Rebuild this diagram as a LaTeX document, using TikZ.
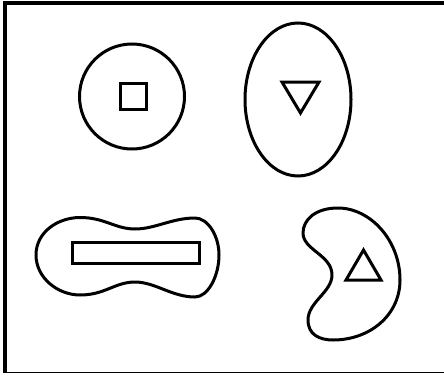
\documentclass[tikz,border=0pt]{standalone}
\usetikzlibrary{shapes.geometric}
\tikzset{
  outline/.style={draw=black,line width=3pt,inner sep=0pt},
  frame/.style={draw=black,line width=4pt},
  blob/.style={line width=3pt,line join=round},
}
\begin{document}
\begin{tikzpicture}[x=1pt,y=-1pt]
  \useasboundingbox (0,0) rectangle (444,375);
  % frame, its right side runs off the page
  \coordinate (tr) at (450,3);
  \coordinate (tl) at (5,3);
  \coordinate (bl) at (5,372.5);
  \coordinate (br) at (450,372.5);
  \draw[frame] (tr) -- (tl) -- (bl);
  \draw[line width=1.5pt] (bl) -- (br);
  % top row
  \node[outline,circle,minimum size=105pt] (disc) at (132,96.5) {};
  \node[outline,minimum size=26pt] (sq) at (133.5,96) {};
  \node[outline,ellipse,minimum width=106pt,minimum height=153pt] (oval) at (298,99.5) {};
  \coordinate (d1) at (282,82);
  \coordinate (d2) at (319,82);
  \coordinate (d3) at (300.5,113);
  \draw[blob,line join=miter] (d1) -- (d2) -- (d3) -- cycle;
  % bottom row: peanut
  \draw[blob] (36,255)
    .. controls (36,232) and (58,217.5) .. (80,217.5)
    .. controls (105,217.5) and (115,229) .. (135,229)
    .. controls (155,229) and (172,218) .. (195,218)
    .. controls (208,218) and (219,236) .. (219,255)
    .. controls (219,276) and (208,297) .. (195,297)
    .. controls (172,297) and (155,282) .. (135,282)
    .. controls (115,282) and (105,295) .. (80,295)
    .. controls (58,295) and (36,278) .. cycle;
  \node[outline,minimum width=127pt,minimum height=21pt] (bar) at (136,253) {};
  % bean
  \draw[blob] (338,208)
    .. controls (315,208) and (303,220) .. (303,233)
    .. controls (303,250) and (332,255) .. (332,275)
    .. controls (332,292) and (308,302) .. (308,320)
    .. controls (308,335) and (320,340) .. (333,340)
    .. controls (370,340) and (400,315) .. (400,280)
    .. controls (400,240) and (370,208) .. cycle;
  \coordinate (u1) at (363.5,250);
  \coordinate (u2) at (381,280);
  \coordinate (u3) at (346,280);
  \draw[blob,line join=miter] (u1) -- (u2) -- (u3) -- cycle;
\end{tikzpicture}
\end{document}
